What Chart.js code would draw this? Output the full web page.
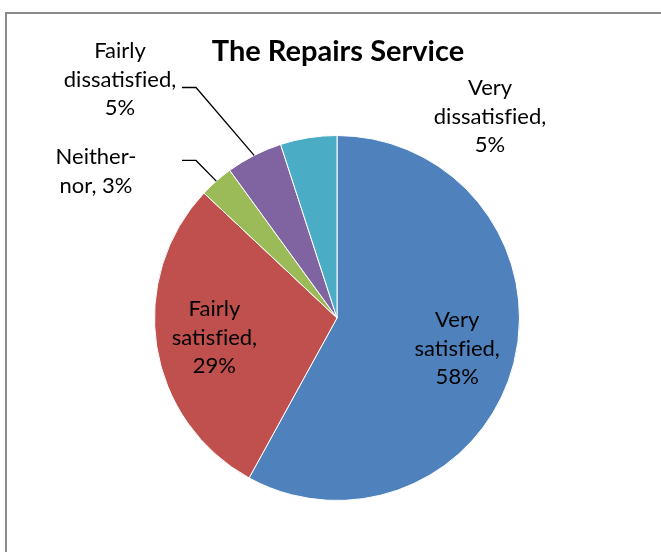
<!DOCTYPE html>
<html>
<head>
<meta charset="utf-8">
<script src="https://cdn.jsdelivr.net/npm/chart.js@4.4.1/dist/chart.umd.min.js"></script>
<style>
  html, body { margin: 0; padding: 0; background: #fff; }
  #wrap { position: relative; width: 661px; height: 552px; overflow: hidden; }
</style>
</head>
<body>
<div id="wrap"><canvas id="pieChart" width="661" height="552"></canvas></div>
<script>
// Chart data
const chartTitle = 'The Repairs Service';
const categories = ['Very satisfied', 'Fairly satisfied', 'Neither-nor', 'Fairly dissatisfied', 'Very dissatisfied'];
const percentages = [58, 29, 3, 5, 5];
const sliceColors = ['#4F81BD', '#C0504D', '#9BBB59', '#8064A2', '#4BACC6'];

const FONT = 'Lato, "Open Sans", sans-serif';

// How each label is broken into lines (like Excel does it)
function labelLines(i) {
    const name = categories[i];
    const pct = percentages[i] + '%';
    if (name === 'Neither-nor') return ['Neither-', 'nor, ' + pct];
    const parts = name.split(' ');
    return [parts[0], parts[1] + ',', pct];
}

// no "fi" ligature, Excel's font doesn't join them
function noLig(t) { return t.replace(/fi/g, 'f\u200Ci'); }

// Outside label placement (text centre and first line y), leader lines where Excel drew them
const outsideLabels = {
    2: { x: 96, y: 157, leader: true },
    3: { x: 120, y: 51, leader: true },
    4: { x: 490, y: 88, leader: false }
};

const frameAndLabels = {
    id: 'frameAndLabels',
    beforeDraw(chart) {
        const ctx = chart.ctx;
        ctx.save();
        ctx.strokeStyle = '#8a8a8a';
        ctx.lineWidth = 2;
        ctx.strokeRect(6, 13, 720, 620);
        ctx.restore();
    },
    afterDraw(chart) {
        const ctx = chart.ctx;
        const arcs = chart.getDatasetMeta(0).data;
        const lineH = 28.5;
        ctx.save();
        ctx.fillStyle = '#000';
        ctx.textAlign = 'center';
        ctx.textBaseline = 'middle';

        // title
        ctx.font = 'bold 29px ' + FONT;
        ctx.fillText(chartTitle, 338, 52);

        ctx.font = '22px ' + FONT;
        arcs.forEach(function (arc, i) {
            const mid = (arc.startAngle + arc.endAngle) / 2;
            const lines = labelLines(i);
            const out = outsideLabels[i];
            if (!out) {
                // inside label, near the slice centroid
                const r = arc.outerRadius * 0.68;
                const cx = arc.x + r * Math.cos(mid);
                const cy = arc.y + r * Math.sin(mid);
                const top = cy - lineH * (lines.length - 1) / 2;
                lines.forEach(function (t, k) { ctx.fillText(noLig(t), cx, top + k * lineH); });
                return;
            }
            lines.forEach(function (t, k) { ctx.fillText(noLig(t), out.x, out.y + k * lineH); });
            if (out.leader) {
                // horizontal stub, then down to the slice edge
                const ly = out.y + lineH * (lines.length === 3 ? 1.28 : 0.12);
                const ex = arc.x + arc.outerRadius * Math.cos(mid);
                const ey = arc.y + arc.outerRadius * Math.sin(mid);
                ctx.strokeStyle = '#000';
                ctx.lineWidth = 1.3;
                ctx.beginPath();
                ctx.moveTo(182, ly);
                ctx.lineTo(196, ly);
                ctx.lineTo(ex, ey);
                ctx.stroke();
            }
        });
        ctx.restore();
    }
};

const ctx = document.getElementById('pieChart').getContext('2d');
const pieChart = new Chart(ctx, {
    type: 'pie',
    data: {
        labels: categories,
        datasets: [{
            data: percentages,
            backgroundColor: sliceColors,
            borderColor: '#ffffff',
            borderWidth: 1
        }]
    },
    options: {
        responsive: false,
        animation: false,
        layout: { padding: { left: 154, right: 141, top: 135, bottom: 51 } },
        plugins: {
            legend: { display: false },
            title: { display: false },
            tooltip: { enabled: false }
        }
    },
    plugins: [frameAndLabels]
});
</script>
</body>
</html>
